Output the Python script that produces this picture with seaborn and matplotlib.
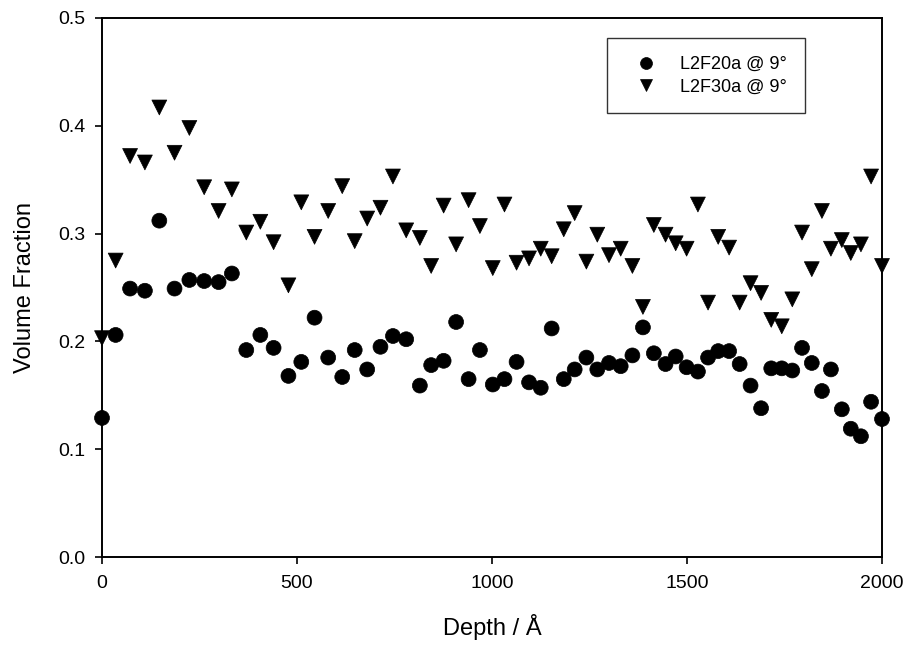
import numpy as np
import pandas as pd
import matplotlib
matplotlib.use("Agg")
import matplotlib.pyplot as plt
import seaborn as sns

depth = [0, 35, 72, 110, 147, 186, 224, 262, 299, 333,
         370, 406, 440, 478, 511, 545, 580, 616, 648, 680,
         714, 746, 780, 815, 844, 876, 908, 940, 969, 1002,
         1032, 1063, 1095, 1125, 1153, 1184, 1212, 1242, 1270, 1300,
         1330, 1360, 1387, 1415, 1445, 1471, 1499, 1528, 1554, 1580,
         1608, 1635, 1663, 1690, 1716, 1743, 1770, 1795, 1820, 1846,
         1869, 1897, 1920, 1946, 1972, 2000]

l2f20a = [0.129, 0.206, 0.249, 0.247, 0.312, 0.249, 0.257, 0.256, 0.255, 0.263,
          0.192, 0.206, 0.194, 0.168, 0.181, 0.222, 0.185, 0.167, 0.192, 0.174,
          0.195, 0.205, 0.202, 0.159, 0.178, 0.182, 0.218, 0.165, 0.192, 0.160,
          0.165, 0.181, 0.162, 0.157, 0.212, 0.165, 0.174, 0.185, 0.174, 0.180,
          0.177, 0.187, 0.213, 0.189, 0.179, 0.186, 0.176, 0.172, 0.185, 0.191,
          0.191, 0.179, 0.159, 0.138, 0.175, 0.175, 0.173, 0.194, 0.180, 0.154,
          0.174, 0.137, 0.119, 0.112, 0.144, 0.128]

l2f30a = [0.203, 0.275, 0.372, 0.366, 0.417, 0.375, 0.398, 0.343, 0.321, 0.341,
          0.301, 0.311, 0.292, 0.252, 0.329, 0.297, 0.321, 0.344, 0.293, 0.314,
          0.324, 0.353, 0.303, 0.296, 0.270, 0.326, 0.290, 0.331, 0.307, 0.268,
          0.327, 0.273, 0.277, 0.286, 0.279, 0.304, 0.319, 0.274, 0.299, 0.280,
          0.286, 0.270, 0.232, 0.308, 0.299, 0.291, 0.286, 0.327, 0.236, 0.297,
          0.287, 0.236, 0.254, 0.245, 0.220, 0.214, 0.239, 0.301, 0.267, 0.321,
          0.286, 0.294, 0.282, 0.290, 0.353, 0.270]

series_names = ["L2F20a @ 9°", "L2F30a @ 9°"]

df = pd.concat([
    pd.DataFrame({"Depth": depth, "Fraction": l2f20a, "Series": series_names[0]}),
    pd.DataFrame({"Depth": depth, "Fraction": l2f30a, "Series": series_names[1]}),
], ignore_index=True)

sns.set_style("white")
plt.rcParams["font.family"] = ["Liberation Sans", "DejaVu Sans"]
plt.rcParams["text.color"] = "black"
plt.rcParams["axes.labelcolor"] = "black"

fig = plt.figure(figsize=(9.08, 6.49), dpi=100)
ax = fig.add_axes([102 / 908, 1 - 557 / 649, 780 / 908, 539 / 649])

sns.scatterplot(data=df, x="Depth", y="Fraction", style="Series",
                markers={series_names[0]: "o", series_names[1]: "v"},
                color="black", edgecolor="black", linewidth=0.5, s=115,
                ax=ax, clip_on=False, zorder=3)

ax.set_xlim(0, 2000)
ax.set_ylim(0, 0.5)
ax.set_xticks([0, 500, 1000, 1500, 2000])
ax.set_yticks(np.arange(0, 0.51, 0.1))
ax.set_yticklabels([f"{v:.1f}" for v in np.arange(0, 0.51, 0.1)])

for sp in ax.spines.values():
    sp.set_visible(True)
    sp.set_color("black")
    sp.set_linewidth(1.4)

ax.tick_params(axis="both", which="major", direction="out", length=5, width=1.2,
               labelsize=14, colors="black", bottom=True, left=True)
ax.tick_params(axis="y", pad=7)
ax.tick_params(axis="x", pad=8)

ax.set_xlabel("Depth / Å", fontsize=17, labelpad=16, color="black")
ax.set_ylabel("Volume Fraction", fontsize=17, labelpad=16, color="black")

leg = ax.legend(loc="upper right", bbox_to_anchor=(0.901, 0.963), frameon=True,
                fancybox=False, edgecolor="black", fontsize=13, handletextpad=0.7,
                handlelength=2.35, borderpad=1.0, labelspacing=0.3,
                borderaxespad=0, markerscale=0.8, title=None, labelcolor="black")
leg.get_frame().set_linewidth(1.0)

fig.savefig("out.png", dpi=100, facecolor="white")
